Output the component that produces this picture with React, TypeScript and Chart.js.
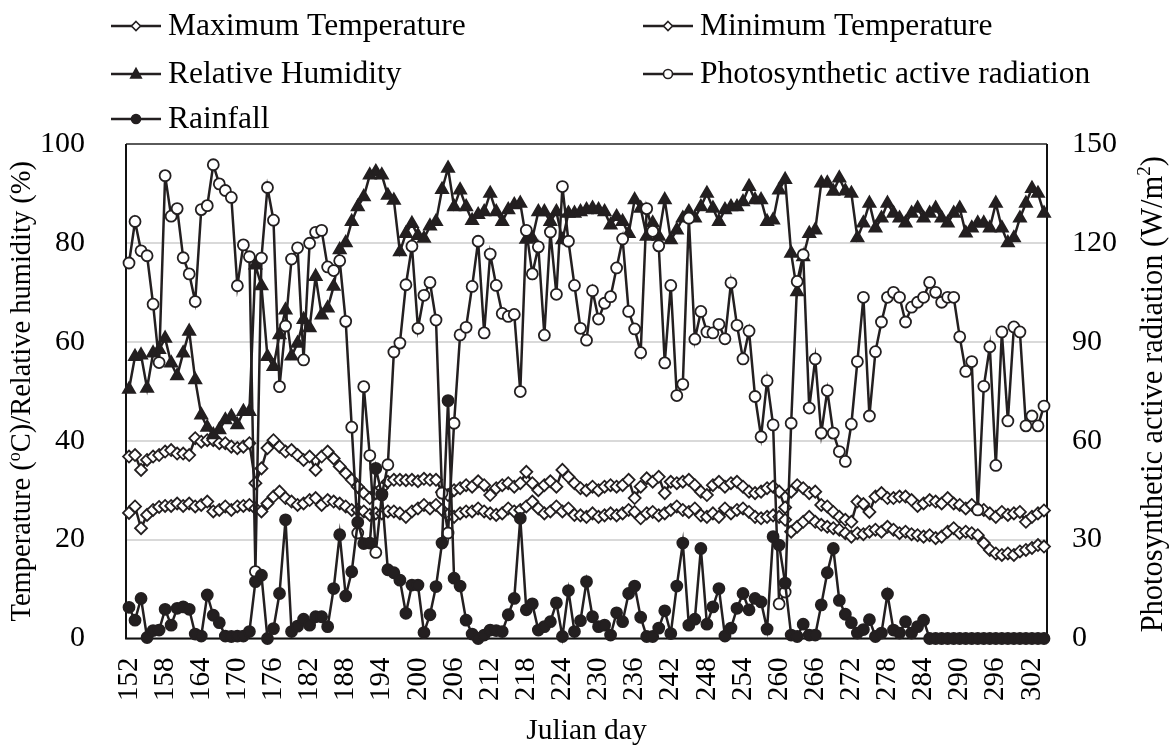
import React, { useEffect, useRef } from 'react';
import { Chart, registerables } from 'chart.js';

Chart.register(...registerables);

const FONT = "'Liberation Serif', 'Times New Roman', serif";
const LINE = '#231f20';

const julianDays = [
  '152','153','154','155','156','157','158','159','160','161','162','163','164','165','166','167','168','169','170','171',
  '172','173','174','175','176','177','178','179','180','181','182','183','184','185','186','187','188','189','190','191',
  '192','193','194','195','196','197','198','199','200','201','202','203','204','205','206','207','208','209','210','211',
  '212','213','214','215','216','217','218','219','220','221','222','223','224','225','226','227','228','229','230','231',
  '232','233','234','235','236','237','238','239','240','241','242','243','244','245','246','247','248','249','250','251',
  '252','253','254','255','256','257','258','259','260','261','262','263','264','265','266','267','268','269','270','271',
  '272','273','274','275','276','277','278','279','280','281','282','283','284','285','286','287','288','289','290','291',
  '292','293','294','295','296','297','298','299','300','301','302','303','304'
];

const xTickLabels = [
  '152','158','164','170','176','182','188','194','200','206','212','218','224',
  '230','236','242','248','254','260','266','272','278','284','290','296','302'
];

const maxTemp = [
  36.8,37.1,34.1,36.1,36.8,37.1,37.8,38.1,37.4,37.4,
  37.1,40.5,39.8,40.1,40.1,39.5,39.5,38.8,38.5,38.8,
  39.5,31.4,34.4,38.5,40.1,38.8,37.8,38.1,37.1,36.1,
  36.8,34.1,36.8,37.8,36.4,34.8,33.4,32.1,30.7,29.4,
  28.4,29.4,30.4,31.7,32.1,32.1,32.0,32.1,31.8,32.3,
  32.1,32.1,29.6,29.0,30.0,30.4,31.0,30.7,31.8,31.0,
  29.0,30.4,31.0,31.4,30.7,31.4,33.7,31.4,30.0,31.0,
  31.8,30.7,34.1,32.7,31.4,30.4,30.0,30.7,30.0,30.7,
  31.0,30.7,31.0,32.1,28.4,30.7,32.4,31.7,32.7,29.4,
  31.7,31.4,31.7,32.1,31.0,29.7,29.0,31.0,31.7,30.7,
  31.4,31.7,30.7,29.7,29.4,29.7,30.4,30.7,29.7,26.5,
  29.7,31.0,30.4,29.4,29.7,27.0,26.7,25.6,24.6,24.0,
  23.6,27.7,27.2,25.6,28.7,29.4,28.4,28.4,28.7,28.7,
  28.0,26.8,27.3,28.0,27.7,27.3,28.4,27.3,27.0,26.3,
  27.0,26.3,26.0,25.3,24.6,25.6,25.0,25.3,25.6,23.6,
  24.6,25.3,25.9
];

const minTemp = [
  25.4,26.7,22.3,25.0,26.0,26.6,26.8,26.8,27.3,26.8,
  27.3,26.7,27.0,27.7,25.7,26.0,26.7,26.0,26.7,26.8,
  27.0,26.3,25.7,27.3,28.7,29.7,28.4,27.7,27.0,27.3,
  28.0,28.4,27.0,28.0,27.7,27.3,26.7,26.0,26.0,25.7,
  25.0,25.3,25.3,25.7,25.7,25.3,24.6,25.7,26.3,27.0,
  26.3,27.0,26.0,25.0,24.6,25.3,25.7,25.7,26.3,25.7,
  25.3,25.0,25.3,26.3,25.7,26.0,26.7,27.7,26.3,25.3,
  25.7,26.7,25.7,26.3,25.0,24.9,24.6,25.3,24.6,24.9,
  25.3,24.9,25.3,26.0,25.6,24.3,25.3,25.6,24.9,25.3,
  26.0,26.7,26.0,25.6,26.3,24.9,24.6,25.3,24.6,26.3,
  25.3,26.0,26.3,25.6,24.6,24.3,24.6,24.9,24.6,24.0,
  21.6,22.6,23.6,24.6,23.6,23.0,22.6,22.3,22.0,21.3,
  20.6,21.3,21.1,21.6,22.0,21.6,22.6,22.0,21.3,21.6,
  21.1,20.9,20.6,20.9,20.3,20.6,21.6,22.3,21.3,21.6,
  21.3,20.9,19.3,17.9,17.2,16.9,17.2,16.9,17.6,17.9,
  18.3,18.9,18.6
];

const relHumidity = [
  50.4,57.0,57.3,50.6,57.7,58.4,60.7,55.7,53.1,57.7,
  62.1,52.3,45.2,42.7,41.2,42.2,44.2,44.9,43.2,45.9,
  45.9,75.5,71.3,57.0,55.0,61.4,66.4,57.1,59.7,64.5,
  62.8,73.2,65.4,66.8,71.2,78.6,80.0,84.3,87.3,89.3,
  93.7,94.4,93.7,89.6,88.6,78.2,81.9,83.9,81.5,80.9,
  83.4,84.3,90.8,95.1,87.3,90.7,87.3,84.5,85.7,86.3,
  90.0,86.3,84.3,86.7,87.7,88.0,80.7,80.9,86.3,86.3,
  84.3,86.3,80.6,86.0,86.0,86.3,86.7,87.0,86.7,86.3,
  83.6,85.3,84.3,81.9,88.7,87.0,81.3,84.0,81.3,88.7,
  80.6,82.6,85.0,86.3,85.0,87.3,90.0,87.0,84.3,86.7,
  87.3,87.3,88.3,91.4,88.7,88.7,84.3,84.6,90.7,92.8,
  77.9,70.1,77.2,81.9,82.6,92.1,92.1,90.4,93.1,90.5,
  90.0,81.0,84.0,88.0,83.0,85.0,88.0,86.0,85.0,84.0,
  86.0,87.0,85.0,86.0,87.0,85.0,84.0,86.0,87.0,82.0,
  83.0,84.0,84.0,83.0,88.0,83.0,80.0,81.0,85.0,88.0,
  91.0,90.0,86.0
];

const parRadiation = [
  113.9,126.5,117.6,116.1,101.4,83.7,140.4,128.1,130.4,115.5,
  110.6,102.2,130.1,131.3,143.7,137.9,135.9,133.8,107.0,119.4,
  115.8,20.3,115.4,136.8,126.9,76.4,94.8,115.1,118.5,84.5,
  119.9,123.2,123.8,112.7,111.6,114.6,96.2,64.1,32.0,76.4,
  55.5,26.1,43.5,52.7,86.9,89.6,107.3,119.0,94.1,104.1,
  108.0,96.6,44.1,32.0,65.3,92.1,94.4,106.8,120.5,92.7,
  116.6,107.1,98.6,97.7,98.3,74.9,123.8,110.6,118.8,92.0,
  123.3,104.4,137.1,120.5,107.1,94.1,90.5,105.5,96.9,101.7,
  103.7,112.4,121.2,99.2,93.9,86.7,130.4,123.5,119.1,83.6,
  107.1,73.7,77.1,127.5,90.8,99.2,93.0,92.7,95.3,90.9,
  107.9,95.0,84.8,93.3,73.4,61.2,78.2,64.8,10.5,14.1,
  65.3,108.3,116.4,69.9,84.8,62.3,75.2,62.3,56.7,53.7,
  65.0,84.0,103.5,67.5,87.0,96.0,103.5,105.0,103.5,96.0,
  100.5,102.0,103.5,108.0,105.0,102.0,103.5,103.5,91.5,81.0,
  84.0,39.0,76.5,88.5,52.5,93.0,66.0,94.5,93.0,64.5,
  67.5,64.5,70.5
];

const rainfall = [
  6.3,3.7,8.1,0.2,1.6,1.7,5.9,2.7,6.1,6.4,
  5.9,0.9,0.5,8.8,4.7,3.2,0.5,0.4,0.5,0.5,
  1.4,11.5,12.8,0.0,2.0,9.1,24.0,1.4,2.5,3.9,
  2.7,4.4,4.4,2.4,10.1,21.0,8.6,13.5,23.5,19.2,
  19.3,34.4,29.2,13.9,13.3,11.8,5.1,10.8,10.8,1.2,
  4.8,10.5,19.3,48.1,12.2,10.6,3.7,0.9,0.0,0.7,
  1.7,1.6,1.4,4.8,8.1,24.3,5.8,7.0,1.7,2.4,
  3.4,7.2,0.4,9.7,1.4,3.6,11.5,4.4,2.4,2.7,
  0.7,5.2,3.4,9.1,10.6,4.3,0.4,0.4,2.1,5.6,
  1.0,10.6,19.3,2.7,3.9,18.2,2.9,6.4,10.1,0.5,
  2.1,6.1,9.1,5.8,8.1,7.4,1.9,20.6,18.9,11.2,
  0.7,0.4,2.9,0.7,0.7,6.8,13.3,18.2,7.7,4.9,
  3.2,1.1,1.8,3.8,0.4,1.1,9.0,1.7,1.1,3.4,
  1.1,2.4,3.7,0,0,0,0,0,0,0,
  0,0,0,0,0,0,0,0,0,0,
  0,0,0
];

const legendItems = [
  { label: 'Maximum Temperature', marker: 'diamond', fill: '#fff', col: 0, row: 0 },
  { label: 'Minimum Temperature', marker: 'diamond', fill: '#fff', col: 1, row: 0 },
  { label: 'Relative Humidity', marker: 'triangle', fill: LINE, col: 0, row: 1 },
  { label: 'Photosynthetic active radiation', marker: 'circle', fill: '#fff', col: 1, row: 1 },
  { label: 'Rainfall', marker: 'circle', fill: LINE, col: 0, row: 2 },
];

type Part = { t: string; sup?: boolean };

function drawRich(ctx: CanvasRenderingContext2D, parts: Part[], cx: number, cy: number, size: number, rot: number) {
  ctx.save();
  ctx.translate(cx, cy);
  ctx.rotate(rot);
  const main = `${size}px ${FONT}`;
  const sup = `${Math.round(size * 0.62)}px ${FONT}`;
  let total = 0;
  const widths = parts.map((p) => {
    ctx.font = p.sup ? sup : main;
    const w = ctx.measureText(p.t).width;
    total += w;
    return w;
  });
  let x = -total / 2;
  ctx.textAlign = 'left';
  ctx.textBaseline = 'alphabetic';
  ctx.fillStyle = '#000';
  const base = size * 0.33;
  parts.forEach((p, i) => {
    ctx.font = p.sup ? sup : main;
    ctx.fillText(p.t, x, base - (p.sup ? size * 0.38 : 0));
    x += widths[i];
  });
  ctx.restore();
}

function drawMarker(ctx: CanvasRenderingContext2D, kind: string, x: number, y: number, r: number, fill: string) {
  ctx.beginPath();
  if (kind === 'diamond') {
    ctx.moveTo(x, y - r);
    ctx.lineTo(x + r, y);
    ctx.lineTo(x, y + r);
    ctx.lineTo(x - r, y);
    ctx.closePath();
  } else if (kind === 'triangle') {
    ctx.moveTo(x, y - r);
    ctx.lineTo(x + r * 0.95, y + r * 0.7);
    ctx.lineTo(x - r * 0.95, y + r * 0.7);
    ctx.closePath();
  } else {
    ctx.arc(x, y, r, 0, Math.PI * 2);
  }
  ctx.fillStyle = fill;
  ctx.fill();
  ctx.lineWidth = 1.6;
  ctx.strokeStyle = LINE;
  ctx.stroke();
}

const overlayPlugin = {
  id: 'overlay',
  beforeDatasetsDraw(chart: any) {
    const { ctx, chartArea: a } = chart;
    ctx.save();
    ctx.lineWidth = 2;
    ctx.strokeStyle = '#5a5a5a';
    ctx.beginPath();
    ctx.moveTo(a.left, a.top);
    ctx.lineTo(a.right, a.top);
    ctx.stroke();
    ctx.strokeStyle = '#111';
    ctx.beginPath();
    ctx.moveTo(a.left, a.top);
    ctx.lineTo(a.left, a.bottom);
    ctx.lineTo(a.right, a.bottom);
    ctx.lineTo(a.right, a.top);
    ctx.stroke();
    ctx.restore();
  },
  afterDraw(chart: any) {
    const { ctx, chartArea: a } = chart;
    ctx.save();
    const colX = [111, 643];
    const rowY = [26, 74, 119];
    legendItems.forEach((it) => {
      const x0 = colX[it.col];
      const y = rowY[it.row];
      ctx.strokeStyle = LINE;
      ctx.lineWidth = 2.5;
      ctx.beginPath();
      ctx.moveTo(x0, y);
      ctx.lineTo(x0 + 50, y);
      ctx.stroke();
      drawMarker(ctx, it.marker, x0 + 25, y, it.marker === 'triangle' ? 5.5 : 4.5, it.fill);
      ctx.fillStyle = '#000';
      ctx.font = `31.5px ${FONT}`;
      ctx.textAlign = 'left';
      ctx.textBaseline = 'middle';
      ctx.fillText(it.label, x0 + 57, y + 1);
    });
    const midY = (a.top + a.bottom) / 2;
    drawRich(ctx, [{ t: 'Temperature (' }, { t: 'o', sup: true }, { t: 'C)/Relative humidity (%)' }], 21, midY, 28.5, -Math.PI / 2);
    drawRich(ctx, [{ t: 'Photosynthetic active radiation (W/m' }, { t: '2', sup: true }, { t: ')' }], 1152, midY + 3, 30.5, -Math.PI / 2);
    drawRich(ctx, [{ t: 'Julian day' }], (a.left + a.right) / 2, 729, 29.5, 0);
    ctx.restore();
  },
};

export default function App() {
  const ref = useRef<HTMLCanvasElement>(null);
  useEffect(() => {
    if (!ref.current) return;
    const common = {
      yAxisID: 'y',
      borderColor: LINE,
      borderWidth: 2.5,
      pointBorderColor: LINE,
      pointBorderWidth: 1.8,
      tension: 0,
      clip: false as any,
    };
    const chart = new Chart(ref.current, {
      type: 'line',
      data: {
        labels: julianDays,
        datasets: [
          { ...common, label: 'Maximum Temperature', data: maxTemp, pointStyle: 'rectRot', pointRadius: 6, pointBackgroundColor: '#fff', order: 5 },
          { ...common, label: 'Minimum Temperature', data: minTemp, pointStyle: 'rectRot', pointRadius: 6, pointBackgroundColor: '#fff', order: 4 },
          { ...common, label: 'Relative Humidity', data: relHumidity, pointStyle: 'triangle', pointRadius: 7, pointBackgroundColor: LINE, order: 3 },
          { ...common, yAxisID: 'y1', label: 'Photosynthetic active radiation', data: parRadiation, pointStyle: 'circle', pointRadius: 5.5, pointBackgroundColor: '#fff', order: 2 },
          { ...common, label: 'Rainfall', data: rainfall, pointStyle: 'circle', pointRadius: 5.5, pointBackgroundColor: LINE, order: 1 },
        ],
      },
      options: {
        responsive: false,
        animation: false,
        devicePixelRatio: 1,
        layout: { padding: { top: 144, left: 0, right: 0, bottom: 0 } },
        plugins: { legend: { display: false }, tooltip: { enabled: false } },
        scales: {
          x: {
            type: 'category',
            offset: true,
            grid: { display: false, drawTicks: false },
            border: { display: false },
            ticks: {
              autoSkip: false,
              minRotation: 90,
              maxRotation: 90,
              padding: 19,
              color: '#000',
              font: { family: FONT, size: 29 },
              callback: (_v: any, i: number) => (xTickLabels.includes(julianDays[i]) ? julianDays[i] : ''),
            },
            afterFit: (s: any) => { s.height = 106.5; },
          },
          y: {
            position: 'left',
            min: 0,
            max: 100,
            ticks: { stepSize: 20, padding: 41, color: '#000', font: { family: FONT, size: 30 } },
            grid: { color: '#d9d9d9', lineWidth: 2, drawTicks: false },
            border: { display: false },
            afterFit: (s: any) => { s.width = 126; },
          },
          y1: {
            position: 'right',
            min: 0,
            max: 150,
            ticks: { stepSize: 30, padding: 25, color: '#000', font: { family: FONT, size: 30 } },
            grid: { drawOnChartArea: false, drawTicks: false },
            border: { display: false },
            afterFit: (s: any) => { s.width = 129; },
          },
        },
      } as any,
      plugins: [overlayPlugin],
    });
    return () => chart.destroy();
  }, []);
  return (
    <div style={{ position: 'fixed', left: 0, top: 0, width: 1176, height: 745, background: '#fff' }}>
      <canvas ref={ref} width={1176} height={745} style={{ display: 'block' }} />
    </div>
  );
}
